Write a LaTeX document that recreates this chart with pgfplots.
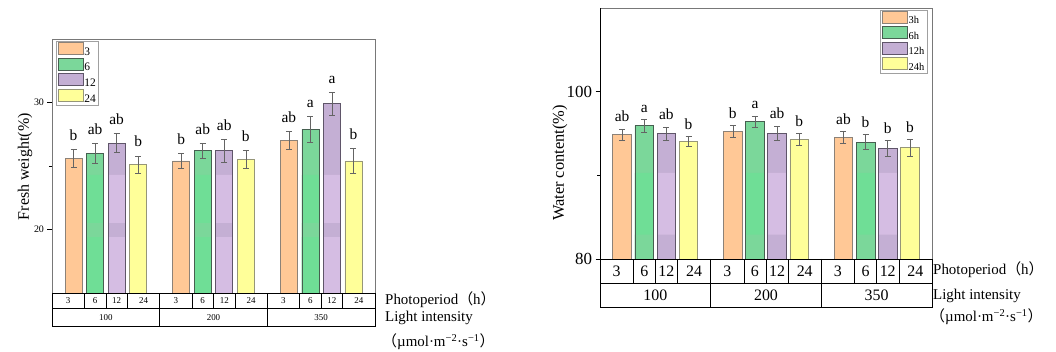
\documentclass[border=0pt]{standalone}
\usepackage{fontspec}
\setmainfont{Liberation Serif}
\newfontfamily\cjk{Noto Sans CJK SC}
\usepackage{pgfplots}
\usepackage{pgfplotstable}
\pgfplotsset{compat=1.18}

\definecolor{cOr}{RGB}{255,200,150}
\definecolor{cGrU}{RGB}{123,215,154}
\definecolor{cGrL}{RGB}{111,222,150}
\definecolor{cPuU}{RGB}{196,175,212}
\definecolor{cPuL}{RGB}{213,189,227}
\definecolor{cYe}{RGB}{255,255,153}
\definecolor{dOr}{RGB}{140,130,120}
\definecolor{dGr}{RGB}{70,95,80}
\definecolor{dPu}{RGB}{95,85,105}
\definecolor{dYe}{RGB}{150,150,120}
\definecolor{ebar}{RGB}{100,100,100}
\definecolor{frame}{RGB}{120,120,120}

\newcommand{\fs}[1]{\fontsize{#1}{#1}\selectfont}

% ---------- left chart: fresh weight ----------
\pgfplotstableread{
x y e lab
1 25.6 0.70 b
6 25.4 0.60 b
11 27.0 0.70 ab
}\LA
\pgfplotstableread{
x y e lab
2 26.0 0.80 ab
7 26.2 0.60 ab
12 27.9 1.00 a
}\LB
\pgfplotstableread{
x y e lab
3 26.8 0.75 ab
8 26.2 0.90 ab
13 29.9 0.90 a
}\LC
\pgfplotstableread{
x y e lab
4 25.1 0.70 b
9 25.5 0.70 b
14 25.4 1.00 b
}\LD
% ---------- right chart: water content ----------
\pgfplotstableread{
x y e lab
1 94.85 0.70 ab
6 95.25 0.70 b
11 94.55 0.70 ab
}\RA
\pgfplotstableread{
x y e lab
2 95.93 0.80 a
7 96.40 0.70 a
12 93.98 0.90 b
}\RB
\pgfplotstableread{
x y e lab
3 95.00 0.80 ab
8 95.05 0.85 ab
13 93.20 0.95 b
}\RC
\pgfplotstableread{
x y e lab
4 94.10 0.60 b
9 94.30 0.75 b
14 93.33 1.00 b
}\RD

\newcommand{\mainbar}[4]{\addplot[ybar, bar shift=0pt, bar width=#4, fill=#2, draw=#3, line width=0.7bp] table[x=x,y=y]{#1};}
\newcommand{\outl}[3]{\addplot[ybar, bar shift=0pt, bar width=#3, fill=none, draw=#2, line width=0.7bp, forget plot,
   error bars/.cd, y dir=both, y explicit,
   error bar style={ebar, line width=0.6bp},
   error mark options={rotate=90, mark size=3bp, ebar, line width=0.6bp}] table[x=x,y=y,y error=e]{#1};}
\newcommand{\letters}[2]{\addplot[draw=none, forget plot, nodes near coords, point meta=explicit symbolic,
   every node near coord/.style={font=\fs{15.5}, anchor=base, yshift=#2, inner sep=0pt, black}]
   table[x=x, y expr=\thisrow{y}+\thisrow{e}, meta=lab]{#1};}

\newcommand{\cattable}[6]{% #1 ymin, #2 row1 height, #3 total height, #4 font row1, #5 font row2, #6 unused
 \draw[black, line width=0.6bp] ([yshift=-#3]axis cs:0,#1) rectangle (axis cs:15,#1);
 \draw[black, line width=0.6bp] ([yshift=-#2]axis cs:0,#1) -- ([yshift=-#2]axis cs:15,#1);
 \foreach \xx in {1.5,2.5,3.5,6.5,7.5,8.5,11.5,12.5,13.5}{\draw[black, line width=0.6bp] (axis cs:\xx,#1) -- ([yshift=-#2]axis cs:\xx,#1);}
 \foreach \xx in {5,10}{\draw[black, line width=0.6bp] (axis cs:\xx,#1) -- ([yshift=-#3]axis cs:\xx,#1);}
 \foreach \xx/\lab in {0.75/3,2/6,3/12,4.25/24,5.75/3,7/6,8/12,9.25/24,10.75/3,12/6,13/12,14.25/24}{%
   \node[font=#4, inner sep=0pt] at ([yshift=-#2/2]axis cs:\xx,#1) {\lab};}
 \foreach \xx/\lab in {2.5/100,7.5/200,12.5/350}{%
   \node[font=#5, inner sep=0pt] at ([yshift=-(#2+#3)/2]axis cs:\xx,#1) {\lab};}
}

\pgfplotsset{
  barchart/.style={
    scale only axis, xmin=0, xmax=15, xtick=\empty,
    clip mode=individual,
    axis line style={frame, line width=0.8bp},
    tick align=outside, ytick pos=left,
    tick style={black, line width=0.6bp},
    major tick length=4.5bp, minor tick length=3bp,
    /pgf/number format/assume math mode=true,
    legend cell align=left,
    legend image code/.code={\draw[##1, line width=0.7bp] (0bp,-2.2bp) rectangle (25bp,9.8bp);},
  }
}

\begin{document}
\begin{tikzpicture}
\useasboundingbox (0,0) rectangle (1056bp,352bp);

% ================= LEFT =================
\begin{axis}[barchart,
  at={(52bp,59bp)}, anchor=south west, width=323bp, height=254bp,
  ymin=15, ymax=35, ytick={20,30}, minor ytick={25},
  yticklabel style={font=\fs{10}},
  legend style={at={(0.012,0.992)}, anchor=north west, draw=frame!70, line width=0.5bp,
     font=\fs{11.5}, row sep=0pt, inner xsep=1.5bp, inner ysep=0.6bp, nodes={inner sep=1.05bp}},
  after end axis/.code={\cattable{15}{15.6bp}{33bp}{\fs{9}}{\fs{9}}{}},
]
% orange
\mainbar{\LA}{cOr}{dOr}{0.79}
% green
\mainbar{\LB}{cGrU}{dGr}{0.79}
% purple
\mainbar{\LC}{cPuU}{dPu}{0.79}
% yellow
\mainbar{\LD}{cYe}{dYe}{0.79}
\addlegendentry{3}\addlegendentry{6}\addlegendentry{12}\addlegendentry{24}
% shading of lower bar parts
\addplot[ybar, bar shift=0pt, bar width=0.79, fill=cGrL, draw=none, forget plot] coordinates {(2,24.3)(7,24.3)(12,24.3)};
\addplot[ybar, bar shift=0pt, bar width=0.79, fill=cPuL, draw=none, forget plot] coordinates {(3,24.3)(8,24.3)(13,24.3)};
\addplot[ybar, bar shift=0pt, bar width=0.79, fill=cGrU, draw=none, forget plot] coordinates {(2,20.5)(7,20.5)(12,20.5)};
\addplot[ybar, bar shift=0pt, bar width=0.79, fill=cPuU, draw=none, forget plot] coordinates {(3,20.5)(8,20.5)(13,20.5)};
\addplot[ybar, bar shift=0pt, bar width=0.79, fill=cGrL, draw=none, forget plot] coordinates {(2,19.4)(7,19.4)(12,19.4)};
\addplot[ybar, bar shift=0pt, bar width=0.79, fill=cPuL, draw=none, forget plot] coordinates {(3,19.4)(8,19.4)(13,19.4)};
\outl{\LA}{dOr}{0.79}
\outl{\LB}{dGr}{0.79}
\outl{\LC}{dPu}{0.79}
\outl{\LD}{dYe}{0.79}
\letters{\LA}{9bp}
\letters{\LB}{9bp}
\letters{\LC}{9bp}
\letters{\LD}{9bp}
\end{axis}
\node[rotate=90, font=\fs{16}] at (25bp,185.3bp) {Fresh weight(\%)};
\node[anchor=west, font=\fs{15}, inner sep=0pt] at (385bp,52bp) {Photoperiod{\cjk （}h{\cjk ）}};
\node[anchor=west, font=\fs{15}, inner sep=0pt] at (385bp,34bp) {Light intensity};
\node[anchor=west, font=\fs{15}, inner sep=0pt] at (382bp,10bp) {{\cjk （}µmol·m\textsuperscript{−2}·s\textsuperscript{−1}{\cjk ）}};

% ================= RIGHT =================
\begin{axis}[barchart,
  at={(600bp,93bp)}, anchor=south west, width=332bp, height=251bp,
  ymin=80, ymax=110, ytick={80,100}, minor ytick={90},
  yticklabel style={font=\fs{17}},
  legend style={at={(0.985,0.992)}, anchor=north east, draw=frame!70, line width=0.5bp,
     font=\fs{10.5}, row sep=0pt, inner xsep=1.5bp, inner ysep=0.6bp, nodes={inner sep=1bp}},
  after end axis/.code={\cattable{80}{24bp}{48bp}{\fs{16}}{\fs{16}}{}%
     \draw[black, line width=0.8bp] (rel axis cs:0,0) -- (rel axis cs:0,1);},
]
\mainbar{\RA}{cOr}{dOr}{0.84}
\mainbar{\RB}{cGrU}{dGr}{0.84}
\mainbar{\RC}{cPuU}{dPu}{0.84}
\mainbar{\RD}{cYe}{dYe}{0.84}
\addlegendentry{3h}\addlegendentry{6h}\addlegendentry{12h}\addlegendentry{24h}
\addplot[ybar, bar shift=0pt, bar width=0.84, fill=cGrL, draw=none, forget plot] coordinates {(2,90.3)(7,90.3)(12,90.3)};
\addplot[ybar, bar shift=0pt, bar width=0.84, fill=cPuL, draw=none, forget plot] coordinates {(3,90.3)(8,90.3)(13,90.3)};
\addplot[ybar, bar shift=0pt, bar width=0.84, fill=cGrU, draw=none, forget plot] coordinates {(2,82.9)(7,82.9)(12,82.9)};
\addplot[ybar, bar shift=0pt, bar width=0.84, fill=cPuU, draw=none, forget plot] coordinates {(3,82.9)(8,82.9)(13,82.9)};
\outl{\RA}{dOr}{0.84}
\outl{\RB}{dGr}{0.84}
\outl{\RC}{dPu}{0.84}
\outl{\RD}{dYe}{0.84}
\letters{\RA}{7bp}
\letters{\RB}{7bp}
\letters{\RC}{7bp}
\letters{\RD}{7bp}
\end{axis}
\node[rotate=90, font=\fs{16.5}] at (560bp,189bp) {Water content(\%)};
\node[anchor=west, font=\fs{15}, inner sep=0pt] at (933bp,82bp) {Photoperiod{\cjk （}h{\cjk ）}};
\node[anchor=west, font=\fs{15}, inner sep=0pt] at (933bp,56bp) {Light intensity};
\node[anchor=west, font=\fs{15}, inner sep=0pt] at (930bp,35bp) {{\cjk （}µmol·m\textsuperscript{−2}·s\textsuperscript{−1}{\cjk ）}};
\end{tikzpicture}
\end{document}
